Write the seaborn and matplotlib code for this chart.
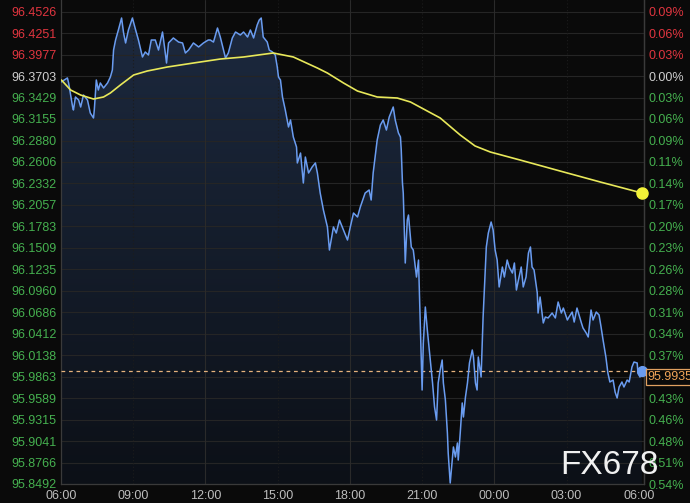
import numpy as np
import pandas as pd
import matplotlib
matplotlib.use('Agg')
import matplotlib.pyplot as plt
import matplotlib.transforms as mtransforms
from matplotlib.colors import LinearSegmentedColormap
import seaborn as sns

# minutes after 06:00 and the index value
minutes = [0, 16, 19, 29, 31, 36, 44, 49, 56, 66, 73, 81, 83, 88, 93, 98, 106, 116, 123, 128,
           131, 136, 143, 151, 156, 161, 168, 178, 186, 193, 203, 210, 218, 225, 235, 243, 253, 258, 263, 268,
           280, 293, 303, 310, 318, 330, 343, 355, 367, 372, 380, 390, 397, 405, 410, 417, 427, 435, 447, 455,
           465, 472, 480, 489, 494, 499, 504, 514, 519, 527, 534, 539, 542, 547, 552, 559, 567, 572, 579, 587,
           589, 597, 604, 609, 617, 626, 634, 639, 646, 654, 664, 669, 679, 686, 694, 704, 714, 721, 729, 739,
           746, 758, 768, 773, 778, 784, 788, 796, 803, 811, 818, 828, 833, 841, 846, 848, 851, 853, 858, 863,
           866, 873, 878, 886, 891, 896, 900, 903, 908, 913, 918, 926, 931, 936, 940, 945, 950, 953, 958, 963,
           965, 970, 975, 978, 983, 988, 990, 995, 1000, 1003, 1008, 1013, 1018, 1025, 1028, 1033, 1037, 1040, 1047, 1052,
           1055, 1060, 1065, 1072, 1077, 1082, 1087, 1092, 1100, 1105, 1112, 1117, 1125, 1130, 1135, 1140, 1147, 1152, 1159, 1165,
           1170, 1174, 1179, 1187, 1189, 1194, 1202, 1207, 1214, 1224, 1232, 1239, 1247, 1252, 1262, 1266, 1274, 1279, 1286, 1297,
           1301, 1309, 1314, 1321, 1326, 1334, 1341, 1346, 1351, 1358, 1363, 1368, 1376, 1381, 1386, 1391, 1398, 1403, 1411, 1416,
           1423, 1428, 1436, 1438, 1443, 1448]
price = [96.3627, 96.3679, 96.3615, 96.3308, 96.3270, 96.3436, 96.3397, 96.3308, 96.3461, 96.3397, 96.3231, 96.3168, 96.3270, 96.3653, 96.3525, 96.3615, 96.3551, 96.3615, 96.3691, 96.3781,
         96.4036, 96.4164, 96.4292, 96.4445, 96.4253, 96.4126, 96.4292, 96.4445, 96.4292, 96.4164, 96.3947, 96.4011, 96.3972, 96.4164, 96.4164, 96.4036, 96.4266, 96.4075, 96.3870, 96.4126,
         96.4190, 96.4138, 96.4126, 96.3998, 96.4036, 96.4126, 96.4075, 96.4126, 96.4164, 96.4164, 96.4138, 96.4317, 96.4202, 96.4036, 96.3934, 96.3998, 96.4190, 96.4266, 96.4228, 96.4266,
         96.4202, 96.4292, 96.4190, 96.4356, 96.4419, 96.4445, 96.4202, 96.4138, 96.4036, 96.4011, 96.3972, 96.3819, 96.3691, 96.3653, 96.3436, 96.3270, 96.3053, 96.3142, 96.2925, 96.2797,
         96.2593, 96.2720, 96.2337, 96.2669, 96.2465, 96.2542, 96.2593, 96.2465, 96.2209, 96.1992, 96.1775, 96.1481, 96.1775, 96.1698, 96.1864, 96.1737, 96.1609, 96.1775, 96.1954, 96.1903,
         96.2031, 96.2209, 96.2248, 96.2120, 96.2465, 96.2720, 96.2886, 96.3078, 96.3142, 96.3014, 96.3180, 96.3308, 96.3142, 96.2976, 96.2925, 96.2759, 96.2337, 96.2209, 96.1315, 96.1864,
         96.1928, 96.1520, 96.1481, 96.1136, 96.1353, 96.0421, 95.9693, 96.0293, 96.0753, 96.0459, 96.0204, 95.9782, 95.9476, 95.9309, 95.9782, 95.9948, 96.0076, 95.9782, 95.9565, 95.9143,
         95.8888, 95.8505, 95.8798, 95.8965, 95.8837, 95.9016, 95.8798, 95.9143, 95.9527, 95.9348, 95.9603, 95.9782, 96.0038, 96.0204, 96.0114, 95.9782, 95.9693, 96.0114, 95.9859, 96.0625,
         96.0970, 96.1520, 96.1698, 96.1839, 96.1737, 96.1481, 96.1353, 96.1009, 96.1264, 96.1136, 96.1353, 96.1264, 96.1187, 96.1315, 96.0970, 96.1098, 96.1264, 96.1009, 96.1136, 96.1443,
         96.1520, 96.1264, 96.1226, 96.0932, 96.0676, 96.0881, 96.0549, 96.0625, 96.0613, 96.0676, 96.0613, 96.0817, 96.0676, 96.0740, 96.0587, 96.0625, 96.0689, 96.0561, 96.0740, 96.0549,
         96.0485, 96.0421, 96.0370, 96.0715, 96.0587, 96.0689, 96.0651, 96.0498, 96.0331, 96.0114, 95.9910, 95.9795, 95.9820, 95.9667, 95.9591, 95.9731, 95.9795, 95.9731, 95.9820, 95.9795,
         95.9987, 96.0050, 96.0038, 95.9910, 95.9859, 95.9935]

# yellow average line
ma_minutes = [1, 24, 49, 81, 106, 123, 148, 181, 215, 265, 330, 397, 455, 529, 579,
              639, 664, 704, 739, 788, 838, 871, 945, 995, 1032, 1070, 1144, 1244, 1344, 1448]
ma_price = [96.3653, 96.3525, 96.3461, 96.3410, 96.3436, 96.3487, 96.3589, 96.3717, 96.3768, 96.3819,
            96.3870, 96.3921, 96.3947, 96.3998, 96.3947, 96.3806, 96.3742, 96.3615, 96.3512, 96.3436,
            96.3423, 96.3372, 96.3168, 96.2950, 96.2810, 96.2733, 96.2631, 96.2490, 96.2350, 96.2209]

y_ticks = [96.4526, 96.4251, 96.3977, 96.3703, 96.3429, 96.3155, 96.2880, 96.2606, 96.2332, 96.2057,
           96.1783, 96.1509, 96.1235, 96.0960, 96.0686, 96.0412, 96.0138, 95.9863, 95.9589, 95.9315,
           95.9041, 95.8766, 95.8492]
pct_labels = ['0.09%', '0.06%', '0.03%', '0.00%', '0.03%', '0.06%', '0.09%', '0.11%', '0.14%', '0.17%',
              '0.20%', '0.23%', '0.26%', '0.28%', '0.31%', '0.34%', '0.37%', '0.40%', '0.43%', '0.46%',
              '0.48%', '0.51%', '0.54%']
x_ticks = [0, 180, 360, 540, 720, 900, 1080, 1260, 1440]
x_labels = ['06:00', '09:00', '12:00', '15:00', '18:00', '21:00', '00:00', '03:00', '06:00']
ref_price = 96.3703
last_price = 95.9935

RED, GREEN, NEUTRAL = '#e0353f', '#45b04f', '#cfcfcf'
Y_LO, Y_HI = 95.8492, 96.4675
X_HI = 1453


def label_color(v):
    if abs(v - ref_price) < 1e-4:
        return NEUTRAL
    return RED if v > ref_price else GREEN


sns.set_style('dark')
plt.rcParams['font.family'] = ['Liberation Sans', 'DejaVu Sans']

fig = plt.figure(figsize=(6.9, 5.03), dpi=100, facecolor='#0a0a0a')
ax = fig.add_axes([61 / 690, 19 / 503, 583 / 690, 484 / 503])
ax.set_facecolor('#0a0a0a')

df = pd.DataFrame({'minute': minutes, 'price': price})
df_ma = pd.DataFrame({'minute': ma_minutes, 'price': ma_price})

# gradient area under the price line
poly = ax.fill_between(df['minute'], df['price'], Y_LO, facecolor='none', edgecolor='none')
grad = np.linspace(0, 1, 256).reshape(-1, 1)
cmap = LinearSegmentedColormap.from_list('navy', ['#0c1017', '#1d2a40'])
img = ax.imshow(grad, extent=[0, X_HI, Y_LO, Y_HI], origin='lower', aspect='auto',
                cmap=cmap, zorder=0.5, interpolation='bilinear')
img.set_clip_path(poly.get_paths()[0], transform=ax.transData)

# grid
for v in y_ticks:
    ax.axhline(v, color='#252525', lw=0.8, zorder=1)
for m in [360, 720, 1080]:
    ax.axvline(m, color='#2a2a2a', lw=0.8, zorder=1)
for m in [180, 540, 900, 1260]:
    ax.axvline(m, color='#1c1c1c', lw=0.8, ls=(0, (1, 2)), zorder=1)

ax.axhline(last_price, color='#e6b27c', lw=0.9, ls=(0, (3, 3)), zorder=3)

sns.lineplot(data=df, x='minute', y='price', ax=ax, color='#6a9cf0', lw=1.1,
             estimator=None, sort=False, zorder=4)
sns.lineplot(data=df_ma, x='minute', y='price', ax=ax, color='#e8e85a', lw=1.2,
             estimator=None, sort=False, zorder=5)

ax.set_xlim(0, X_HI)
ax.set_ylim(Y_LO, Y_HI)
ax.set_xlabel('')
ax.set_ylabel('')
ax.grid(False)

ax.set_xticks(x_ticks)
ax.set_xticklabels(x_labels, color='#bdbdbd', fontsize=9)
ax.set_yticks(y_ticks)
ax.set_yticklabels([f'{v:.4f}' for v in y_ticks], fontsize=9)
for lbl, v in zip(ax.get_yticklabels(), y_ticks):
    lbl.set_color(label_color(v))
ax.tick_params(axis='both', length=0)
ax.tick_params(axis='y', pad=3)
ax.tick_params(axis='x', pad=4)

for side in ['left', 'right', 'bottom']:
    ax.spines[side].set_visible(True)
    ax.spines[side].set_color('#3a3a3a')
    ax.spines[side].set_linewidth(0.9)
ax.spines['top'].set_visible(False)

ax2 = ax.twinx()
ax2.set_ylim(Y_LO, Y_HI)
ax2.set_yticks(y_ticks)
ax2.set_yticklabels(pct_labels, fontsize=9)
for lbl, v in zip(ax2.get_yticklabels(), y_ticks):
    lbl.set_color(label_color(v))
ax2.tick_params(axis='y', length=0, pad=3)
ax2.grid(False)
for side in ['left', 'top', 'bottom']:
    ax2.spines[side].set_visible(False)
ax2.spines['right'].set_color('#3a3a3a')
ax2.spines['right'].set_linewidth(0.9)

# end markers drawn on the top axes so they sit over the right spine
ax2.plot(minutes[-1], price[-1], 'o', color='#6a9cf0', ms=7, zorder=6, clip_on=False)
ax2.plot(ma_minutes[-1], ma_price[-1], 'o', color='#f2f238', ms=8, zorder=6, clip_on=False)
ax2.set_xlim(0, X_HI)
ax2.set_ylim(Y_LO, Y_HI)

# last price tag on the right edge
trans = mtransforms.blended_transform_factory(ax2.transAxes, ax2.transData)
ax2.annotate(f'{last_price:.4f}', xy=(1.0, last_price), xycoords=trans,
             xytext=(2.5, -4.5), textcoords='offset points', ha='left', va='center',
             fontsize=9, color='#f0a458', annotation_clip=False, zorder=10,
             bbox=dict(boxstyle='square,pad=0.15', facecolor='#0a0a0a', edgecolor='#e0a060', lw=0.9))

fig.text(609 / 690, 1 - 466 / 503, 'FX678', fontsize=24, color='#f0f0f0',
         ha='center', va='center')

fig.savefig('out.png', dpi=100, facecolor=fig.get_facecolor())
